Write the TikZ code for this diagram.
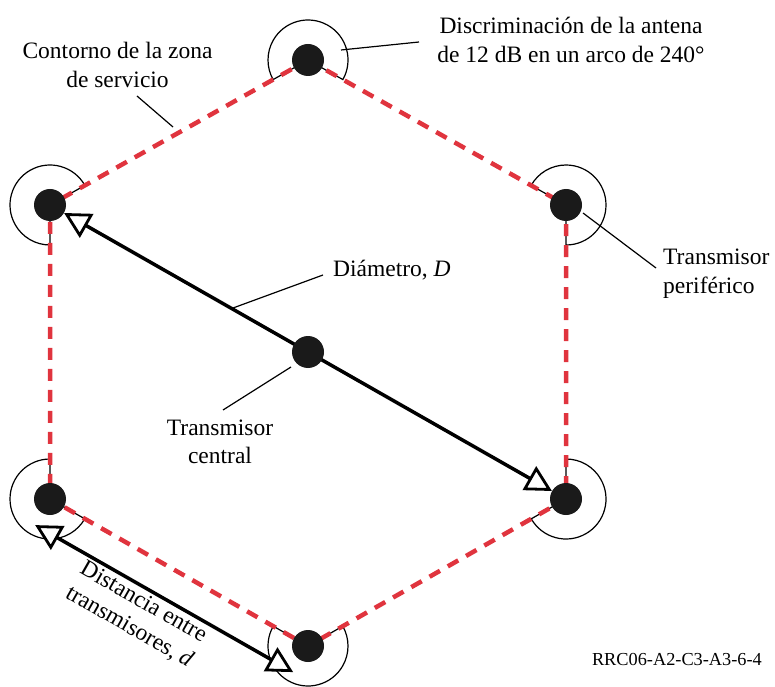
\documentclass[tikz,border=0pt]{standalone}
\usepackage{fontspec}
\setmainfont{Liberation Serif}
\usetikzlibrary{arrows.meta,calc}
\definecolor{zonered}{RGB}{224,52,62}
\definecolor{dotblack}{RGB}{26,26,26}
\pgfdeclarelayer{bg}
\pgfsetlayers{bg,main}
\begin{document}
\begin{tikzpicture}[x=1pt,y=1pt,
  lbl/.style={font=\fontsize{23.5}{28.5}\selectfont, inner sep=0pt, align=center},
  tx/.style={circle, fill=dotblack, minimum size=32pt, inner sep=0pt},
  zone/.style={draw=zonered, line width=4.5pt, dash pattern=on 12pt off 9pt},
  sector/.style={draw=black, line width=1.2pt},
  leader/.style={draw=black, line width=1.2pt},
  dimarrow/.style={draw=black, line width=3.5pt,
    {Triangle[open,fill=white,length=26pt,width=27pt,line width=2.8pt]}-{Triangle[open,fill=white,length=26pt,width=27pt,line width=2.8pt]}}
]
\useasboundingbox (0,0) rectangle (775,686);

% transmitters
\node[tx] (top) at (308,626) {};
\node[tx] (ul)  at (50,481) {};
\node[tx] (ur)  at (566,481) {};
\node[tx] (ll)  at (50,187) {};
\node[tx] (lr)  at (566,187) {};
\node[tx] (bot) at (308,40) {};
\node[tx] (cen) at (308,334) {};

% labels
\node[lbl] (contorno) at (117.5,621) {Contorno de la zona\\de servicio};
\node[lbl] (discr) at (571,646) {Discriminación de la antena\\de 12 dB en un arco de 240°};
\node[lbl, anchor=base west] (diam) at (333,409) {Diámetro, \textit{D}};
\node[lbl] (tcent) at (220,244) {Transmisor\\central};
\node[lbl, align=left, anchor=west] (tperi) at (663,412.5) {Transmisor\\periférico};
\node[lbl, rotate=-29.7] (dist) at (136.2,71.1) {Distancia entre\\transmisores, \textit{d}};
\node[font=\fontsize{18.3}{22}\selectfont, inner sep=0pt, anchor=base east] (ref) at (762,21) {RRC06-A2-C3-A3-6-4};

% leader end points
\coordinate (cA) at (137,590);
\coordinate (cB) at (173,559);
\coordinate (dA) at (341,636);
\coordinate (dB) at (419,644);
\coordinate (mA) at (233,378);
\coordinate (mB) at (323,411);
\coordinate (tA) at (223,276);
\coordinate (tB) at (291,319);
\coordinate (pA) at (583,473);
\coordinate (pB) at (656,418);
\coordinate (sA) at (35.15,160.9);
\coordinate (sB) at (293.15,13.9);

\begin{pgfonlayer}{bg}
% 240 degree antenna sectors
\draw[sector] (top.center) -- ++(-29.3:40pt) arc[start angle=-29.3, end angle=209.3, radius=40pt] -- (top.center);
\draw[sector] (ul.center) -- ++(29.3:40pt) arc[start angle=29.3, end angle=270, radius=40pt] -- (ul.center);
\draw[sector] (ur.center) -- ++(-90:40pt) arc[start angle=-90, end angle=150.7, radius=40pt] -- (ur.center);
\draw[sector] (ll.center) -- ++(90:40pt) arc[start angle=90, end angle=330.3, radius=40pt] -- (ll.center);
\draw[sector] (lr.center) -- ++(-150.3:40pt) arc[start angle=-150.3, end angle=90, radius=40pt] -- (lr.center);
\draw[sector] (bot.center) -- ++(150.3:40pt) arc[start angle=150.3, end angle=389.7, radius=40pt] -- (bot.center);

% leaders
\draw[leader] (cA) -- (cB);
\draw[leader] (dA) -- (dB);
\draw[leader] (mA) -- (mB);
\draw[leader] (tA) -- (tB);
\draw[leader] (pA) -- (pB);

% service zone contour
\draw[zone] (top.center) -- (ur.center) -- (lr.center) -- (bot.center) -- (ll.center) -- (ul.center) -- cycle;

% dimensions
\draw[dimarrow] (ul) -- (lr);
\draw[dimarrow] (sA) -- (sB);
\end{pgfonlayer}
\end{tikzpicture}
\end{document}
